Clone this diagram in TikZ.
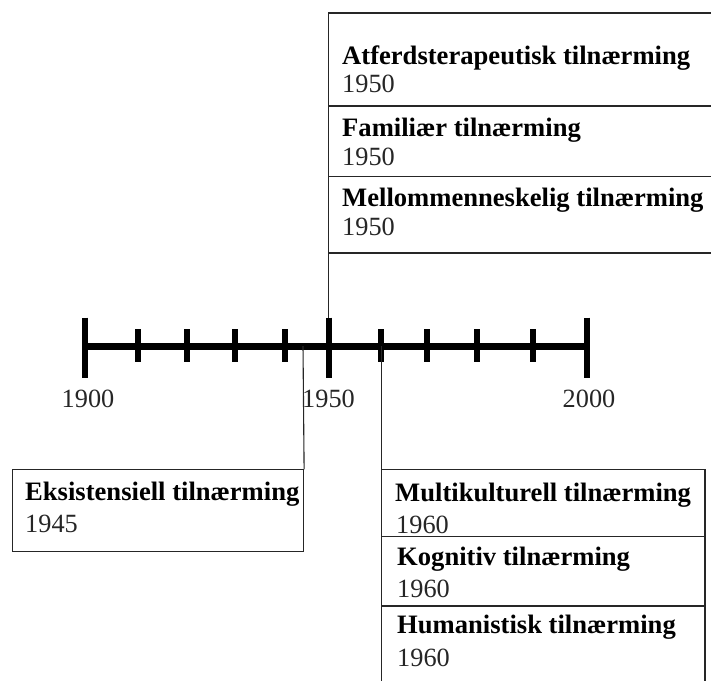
\documentclass[tikz,border=0pt]{standalone}
\usepackage{fontspec}
\setmainfont{Liberation Serif}
\begin{document}
\begin{tikzpicture}[x=1pt,y=-1pt,
  thinline/.style={line width=1.1pt,draw=black!85},
  axis/.style={line width=7pt},
  bigtick/.style={line width=6pt},
  smalltick/.style={line width=6pt},
  ttl/.style={anchor=base west,inner sep=0pt,font=\fontsize{26.6}{30}\selectfont\bfseries},
  yr/.style={anchor=base west,inner sep=0pt,font=\fontsize{26.3}{30}\selectfont,text=black!85},
  lbl/.style={anchor=base,inner sep=0pt,font=\fontsize{26.3}{30}\selectfont,text=black!85}]
\clip (0,0) rectangle (711,680);
\fill[white] (0,0) rectangle (711,680);

% timeline
\coordinate (t1900) at (85,346);
\coordinate (t2000) at (587,346);
\draw[axis] (t1900) -- (t2000);
\foreach \x in {85,329,587} \draw[bigtick] (\x,317.5) -- (\x,377.5);
\foreach \x in {138,187,234.6,285,381,426.5,476.5,533} \draw[smalltick] (\x,329) -- (\x,362);
\node[lbl] (l1900) at (88,407) {1900};
\node[lbl] (l1950) at (328.5,407) {1950};
\node[lbl] (l2000) at (589,407) {2000};

% top boxes
\coordinate (topL) at (328.5,13);
\draw[thinline] (716,13) -- (topL) -- (328.5,253) -- (716,253);
\draw[thinline] (328.5,106) -- (716,106);
\draw[thinline] (328.5,176.7) -- (716,176.7);
\coordinate (c1950top) at (328.5,253);
\coordinate (c1950ax) at (328.5,318);
\draw[thinline] (c1950top) -- (c1950ax);
\node[ttl] (atfT) at (342,64) {Atferdsterapeutisk tilnærming};
\node[yr] (atfY) at (342,92.5) {1950};
\node[ttl] (famT) at (342,136) {Familiær tilnærming};
\node[yr] (famY) at (342,165) {1950};
\node[ttl] (melT) at (342,206) {Mellommenneskelig tilnærming};
\node[yr] (melY) at (342,235) {1950};

% bottom-left box
\node[draw=black!85,line width=1.1pt,minimum width=291.3pt,minimum height=81.4pt,anchor=north west,inner sep=0pt] (eksBox) at (11.7,469.3) {};
\node[ttl] (eksT) at (25,500.5) {Eksistensiell tilnærming};
\node[yr] (eksY) at (25,532) {1945};
\coordinate (c1945ax) at (303,346);
\draw[thinline] (c1945ax) -- (eksBox.north east);

% bottom-right boxes
\coordinate (rbTL) at (381.5,469.3);
\draw[thinline] (rbTL) rectangle (705,690);
\draw[thinline] (381.5,536.7) -- (705,536.7);
\draw[thinline] (381.5,606) -- (705,606);
\coordinate (c1960ax) at (381.5,346);
\draw[thinline] (c1960ax) -- (rbTL);
\node[ttl] (mulT) at (395,501) {Multikulturell tilnærming};
\node[yr] (mulY) at (396,533) {1960};
\node[ttl] (kogT) at (397,565) {Kognitiv tilnærming};
\node[yr] (kogY) at (397,597) {1960};
\node[ttl] (humT) at (397,633) {Humanistisk tilnærming};
\node[yr] (humY) at (397,666) {1960};
\end{tikzpicture}
\end{document}
